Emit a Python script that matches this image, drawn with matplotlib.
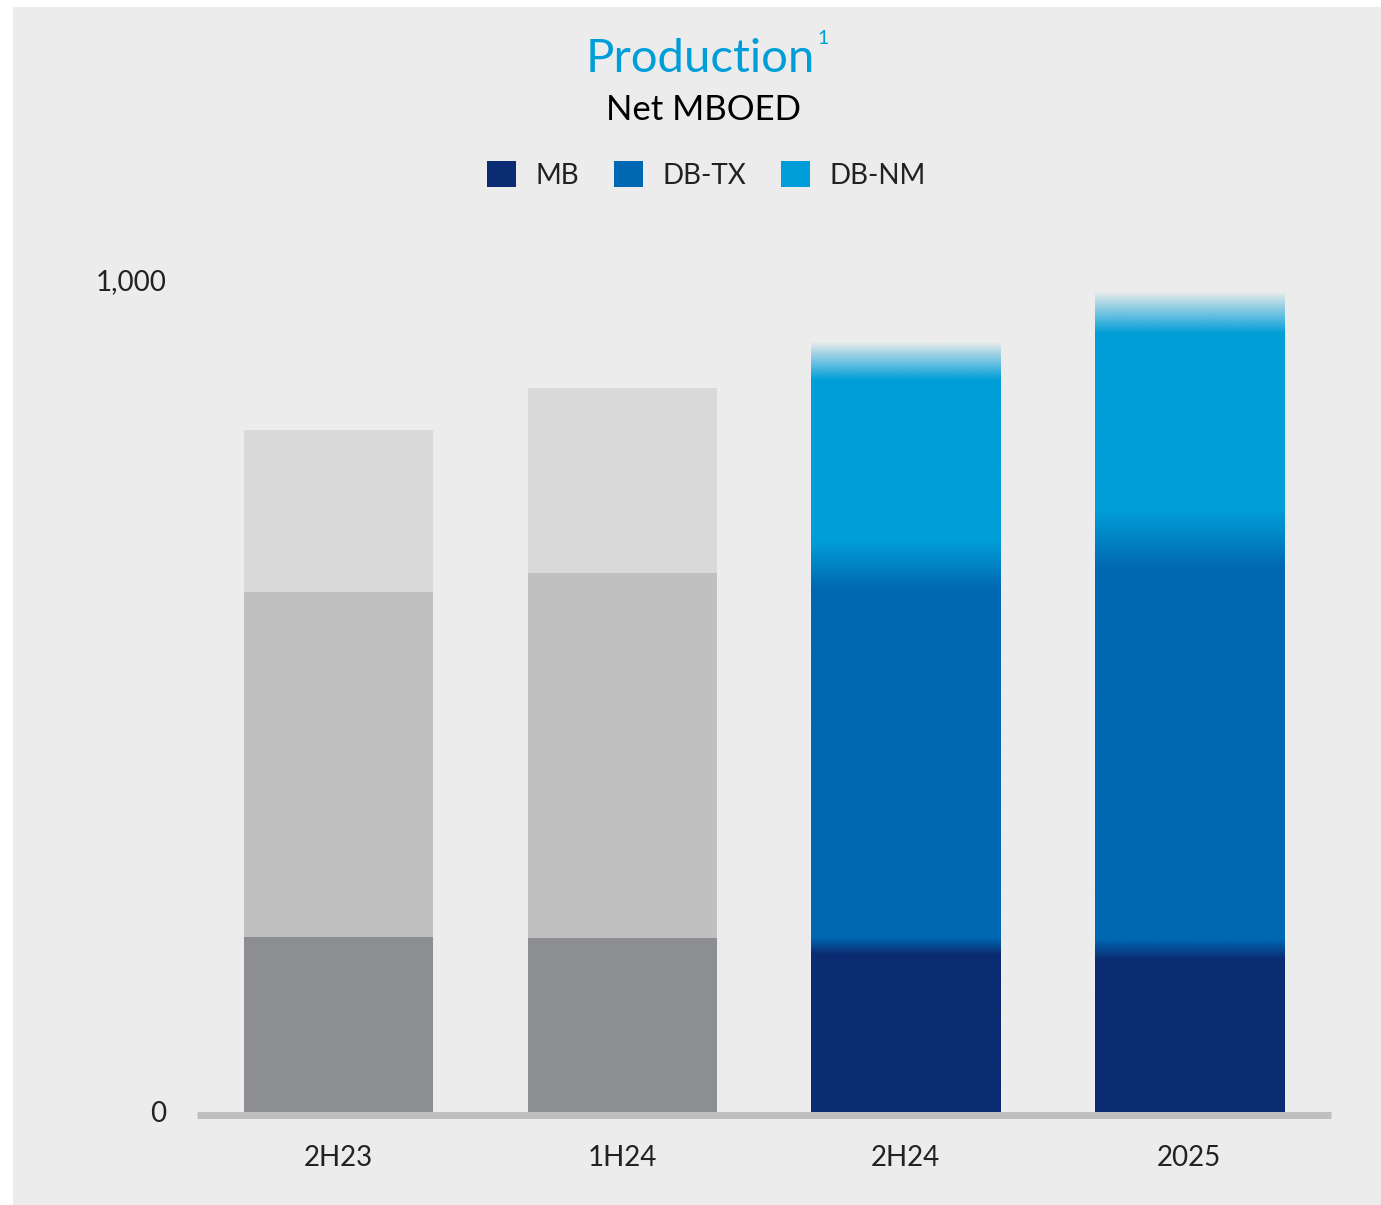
import numpy as np
import matplotlib
matplotlib.use("Agg")
import matplotlib.pyplot as plt
from matplotlib.colors import to_rgba
from matplotlib.patches import Patch, Rectangle

# data (Net MBOED)
periods = ["2H23", "1H24", "2H24", "2025"]
series = ["MB", "DB-TX", "DB-NM"]
mb = [210, 209, 199, 195]
db_tx = [415, 439, 458, 492]
db_nm = [195, 222, 246, 274]

# style
blue_cols = ["#0b2c72", "#0067b2", "#009ed8"]
gray_cols = ["#8c8e92", "#c0c0c0", "#d9d9d9"]
gradient_bars = [False, False, True, True]
blend = {2: [10, 30, 23], 3: [12, 36, 25]}   # half-width of colour blends (units)

plt.rcParams['font.family'] = ['Lato', 'DejaVu Sans']

W, H = 1381, 1205
fig = plt.figure(figsize=(W / 100, H / 100), dpi=100)
fig.patch.set_facecolor("white")
fig.patches.append(Rectangle((13 / W, 0), 1, 1 - 7 / H, transform=fig.transFigure,
                             facecolor="#ececec", edgecolor="none", zorder=-10))

ax = fig.add_axes([197 / W, 1 - 1112 / H, (1331 - 197) / W, (1112 - 280) / H])
ax.set_facecolor("none")

bw = 0.667
x = np.arange(len(periods))


def gradient_bar(ax, xc, vals, cols, hw):
    bounds = np.cumsum(vals)
    top = bounds[-1] + hw[-1]
    ys = np.linspace(0, top, 800)
    col = np.tile(np.array(to_rgba(cols[0])), (len(ys), 1))
    for b, c, h in zip(bounds[:-1], cols[1:], hw[:-1]):
        t = np.clip((ys - (b - h)) / (2 * h), 0, 1)[:, None]
        col = col * (1 - t) + np.array(to_rgba(c)) * t
    t = np.clip((ys - (bounds[-1] - hw[-1])) / (2 * hw[-1]), 0, 1)
    col[:, 3] = 1 - t
    ax.imshow(col[:, None, :], extent=[xc - bw / 2, xc + bw / 2, 0, top],
              origin="lower", aspect="auto", interpolation="bilinear", zorder=2)


for i in range(len(periods)):
    vals = [mb[i], db_tx[i], db_nm[i]]
    if gradient_bars[i]:
        gradient_bar(ax, x[i], vals, blue_cols, blend[i])
    else:
        bottom = 0
        for v, c in zip(vals, gray_cols):
            ax.bar(x[i], v, bw, bottom=bottom, color=c, edgecolor="none", zorder=2)
            bottom += v

ax.set_xlim(-0.5, 3.5)
ax.set_ylim(0, 1000)
ax.set_xticks(x, periods)
ax.set_yticks([0, 1000], ["0", "1,000"])
ax.tick_params(axis="both", length=0, labelsize=20, labelcolor="#222222")
ax.tick_params(axis="y", pad=22)
ax.tick_params(axis="x", pad=21)
for s in ["top", "left", "right"]:
    ax.spines[s].set_visible(False)
ax.spines["bottom"].set_position(("outward", 2.5))
ax.spines["bottom"].set_linewidth(5)
ax.spines["bottom"].set_color("#bfbfbf")
ax.spines["bottom"].set_capstyle("butt")

# titles
title = fig.text(700 / W, 1 - 72 / H, "Production", fontsize=34, color="#009ed8",
                 ha="center", va="baseline")
fig.canvas.draw()
bb = title.get_window_extent()
fig.text((bb.x1 + 3) / W, 1 - 44 / H, "1", fontsize=14, color="#009ed8",
         ha="left", va="baseline")
fig.text(703 / W, 1 - 120 / H, "Net MBOED", fontsize=25, color="black",
         ha="center", va="baseline")

handles = [Patch(facecolor=c, edgecolor="none") for c in blue_cols]
leg = fig.legend(handles, series, loc="center", bbox_to_anchor=(706 / W, 1 - 175 / H),
                 ncol=3, frameon=False, fontsize=20, handlelength=1.05, handleheight=1.05,
                 handletextpad=0.7, columnspacing=1.25)
for t in leg.get_texts():
    t.set_color("#222222")

fig.savefig("out.png", dpi=100, facecolor=fig.get_facecolor())
